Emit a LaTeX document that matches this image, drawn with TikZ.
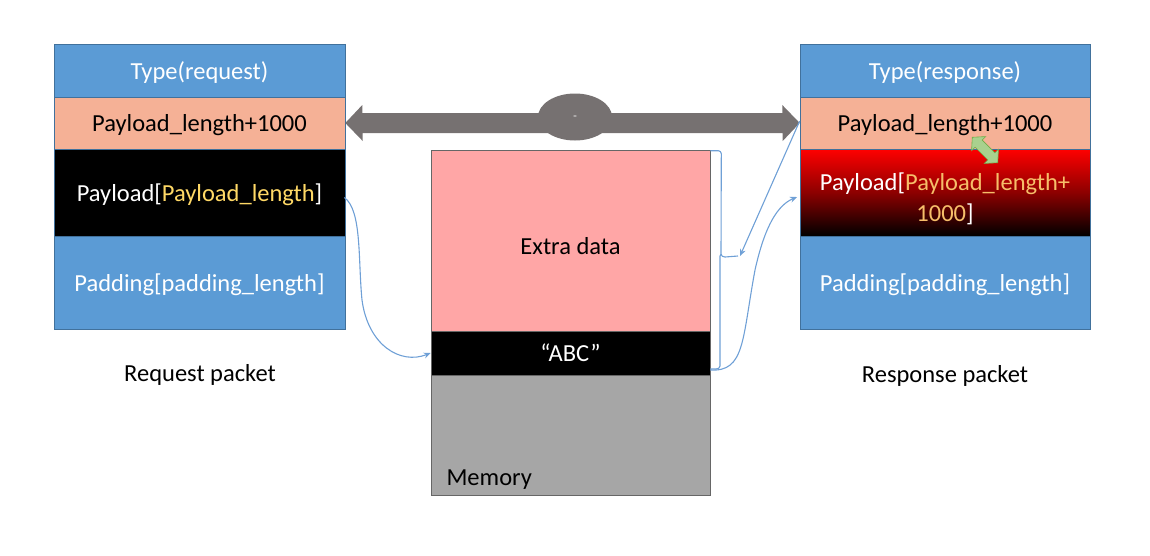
\documentclass[tikz,border=0pt]{standalone}
\usepackage{fontspec}
\setmainfont{Carlito}
\usetikzlibrary{arrows.meta,shapes.geometric}
\definecolor{blu}{HTML}{5B9BD5}
\definecolor{bluedge}{HTML}{41719C}
\definecolor{salmon}{HTML}{F5B196}
\definecolor{pinkx}{HTML}{FFA6A6}
\definecolor{memgray}{HTML}{A6A6A6}
\definecolor{arrgray}{HTML}{767171}
\definecolor{goldA}{HTML}{FFD966}
\definecolor{goldB}{HTML}{F6BE6A}
\definecolor{linkblue}{HTML}{6FA0D6}
\definecolor{grfill}{HTML}{A9D18E}
\definecolor{gredge}{HTML}{70AD47}
\tikzset{
  txt/.style={font=\fontsize{24.5}{31}\selectfont},
  row/.style={txt, rectangle, inner sep=0pt, draw=bluedge, line width=0.6pt, align=center, text depth=0pt},
  bluerow/.style={row, fill=blu, text=white},
  lenrow/.style={row, fill=salmon, text=black},
  blkrow/.style={row, fill=black, text=white},
  memrow/.style={row, draw=gray!80!black},
  link/.style={draw=linkblue, line width=1.1pt, -{Stealth[length=7pt,width=6pt]}},
  lbl/.style={txt, text=black, text depth=0pt}
}
\begin{document}
\begin{tikzpicture}[x=1pt,y=-1pt]
\useasboundingbox (0,0) rectangle (1150,555);
% left packet
\node[bluerow, minimum width=291, minimum height=53] (ltype) at (199.5,70.5) {Type(request)};
\node[lenrow, minimum width=291, minimum height=52] (llen) at (199.5,123) {Payload\_length+1000};
\node[blkrow, minimum width=291, minimum height=87] (lpay) at (199.5,192.5) {Payload[\textcolor{goldA}{Payload\_length}]};
\node[bluerow, minimum width=291, minimum height=93] (lpad) at (199.5,282.5) {Padding[padding\_length]};
\node[lbl] (lcap) at (200,373) {Request packet};
% right packet
\node[bluerow, minimum width=290, minimum height=53] (rtype) at (945,70.5) {Type(response)};
\node[lenrow, minimum width=290, minimum height=52] (rlen) at (945,123) {Payload\_length+1000};
\node[row, top color=red, bottom color=black, middle color=red!55!black, minimum width=290, minimum height=87] (rpay) at (945,192.5) {};
\node[txt, align=center, text=white, inner sep=0pt] (rpaytxt) at ([yshift=-6pt]rpay.center) {Payload[\textcolor{goldB}{Payload\_length+}\\\textcolor{goldB}{1000}]};
\node[bluerow, minimum width=290, minimum height=93] (rpad) at (945,282.5) {Padding[padding\_length]};
\node[lbl] (rcap) at (945,374) {Response packet};
% memory
\node[memrow, fill=pinkx, minimum width=279, minimum height=181, text height=27pt] (extra) at (570.5,240.5) {Extra data};
\node[memrow, fill=black, text=white, minimum width=279, minimum height=44] (abc) at (570.5,353) {“ABC”};
\node[memrow, fill=memgray, minimum width=279, minimum height=120] (mem) at (570.5,435) {};
\node[lbl, anchor=west] (memlbl) at (443,478) {Memory};
% big double arrow
\fill[arrgray] (llen.east) -- ++(17,-18) -- ++(0,8) -- ++(420,0) -- ++(0,-8) -- (rlen.west) -- ++(-17,18) -- ++(0,-8) -- ++(-420,0) -- ++(0,8) -- cycle;
\node[ellipse, fill=arrgray, minimum width=74, minimum height=47, inner sep=0pt, text=white!85!gray, font=\scriptsize] (eq) at (575,117) {=};
% brace
\coordinate (btip) at (740,256);
\draw[linkblue, line width=1.1pt] (extra.north east) ++(0,1) -- ++(8,0) to[out=0,in=90] ++(3,3) -- (721,254) to[out=-90,in=180] ++(4,3) -- ++(13,-1)
  (721,254) to[out=-90,in=180] ++(-1,3) -- (720,366) to[out=-90,in=0] ++(-4,3) -- (abc.east|-0,369);
% connectors
\draw[link] (lpay.east) ++(-1,5) .. controls (362,210) and (358,260) .. (362,300) .. controls (368,345) and (400,365) .. (abc.west);
\draw[link] (abc.east) ++(0,17) .. controls (745,372) and (742,340) .. (755,270) .. controls (765,225) and (778,205) .. (797,197);
\draw[link] (rlen.west) ++(0,-2) -- (btip);
% green double arrow
\begin{scope}[shift={(985,150)}, rotate=-45]
\filldraw[fill=grfill, draw=gredge, line width=0.6pt] (-18,0) -- (-9,10) -- (-9,5) -- (9,5) -- (9,10) -- (18,0) -- (9,-10) -- (9,-5) -- (-9,-5) -- (-9,-10) -- cycle;
\end{scope}
\end{tikzpicture}
\end{document}
